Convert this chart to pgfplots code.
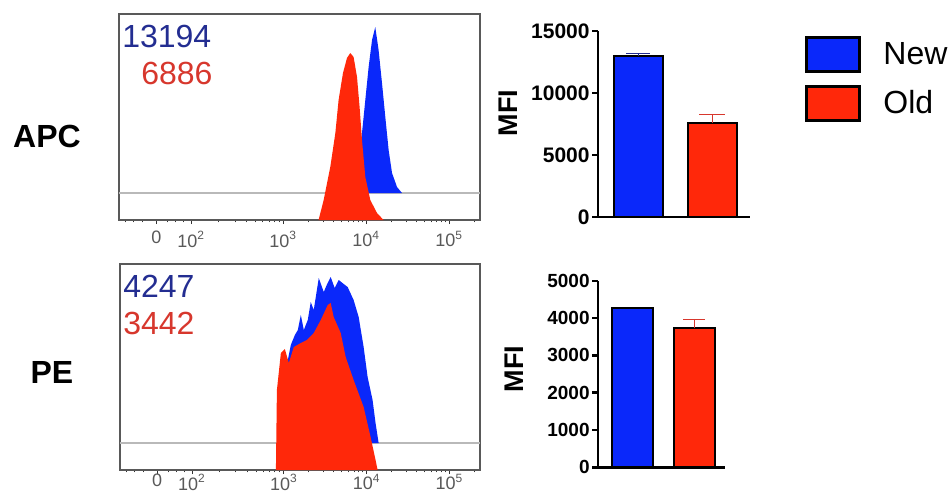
\documentclass[border=0pt]{standalone}
\usepackage{fontspec}
\setmainfont{Liberation Sans}
\usepackage{pgfplots}
\pgfplotsset{compat=1.18}

\definecolor{newblue}{RGB}{10,40,250}
\definecolor{oldred}{RGB}{255,40,10}
\definecolor{navy}{RGB}{35,45,145}
\definecolor{numred}{RGB}{215,55,45}

\pgfplotsset{
  histo/.style={
    scale only axis, width=180.5pt, height=103pt,
    xmin=1.02, xmax=5.37, ymin=0, ymax=206,
    ytick=\empty,
    xtick={1.47,1.89,3,4,5},
    xticklabels={0,10\textsuperscript{2},10\textsuperscript{3},10\textsuperscript{4},10\textsuperscript{5}},
    minor xtick={1.1,1.2,1.3,1.6,1.7,1.8,2.22,2.42,2.56,2.67,2.75,2.83,2.89,2.95,
                 3.30,3.48,3.60,3.70,3.78,3.85,3.90,3.95,
                 4.30,4.48,4.60,4.70,4.78,4.85,4.90,4.95,5.30},
    tick pos=left, tick align=outside,
    major tick length=2pt, minor tick length=1.2pt,
    tick style={black!80, line width=0.5pt},
    axis line style={black!65, line width=0.7pt},
    xticklabel style={font=\fontsize{9}{10}\selectfont, text=black!65},
  },
  barax/.style={
    scale only axis,
    axis x line=bottom, axis y line=left,
    axis line style={line width=1.2pt, -},
    xtick=\empty, ymin=0,
    ytick style={line width=1.2pt, black},
    major tick length=3pt, tick align=outside,
    /pgf/number format/assume math mode=true,
    /pgf/number format/1000 sep={},
    scaled y ticks=false,
    ybar, bar shift=0pt,
    ylabel={MFI},
    ylabel style={font=\bfseries\fontsize{13.5}{15}\selectfont, anchor=center},
  },
}

\begin{document}
\begin{tikzpicture}
\useasboundingbox (0,0) rectangle (475pt,-247.5pt);

% ---------- APC histogram ----------
\begin{axis}[histo, at={(59.5pt,-110pt)}, xticklabel style={yshift=0pt}]
\addplot[gray!55, line width=0.6pt] coordinates {(1.02,27) (5.37,27)};
\addplot[fill=newblue, draw=none] coordinates {
  (3.828,27) (3.867,33) (3.907,53) (3.948,87) (3.988,120) (4.028,153)
  (4.069,180) (4.108,193) (4.148,170) (4.189,137) (4.229,103) (4.269,70)
  (4.310,47) (4.370,33) (4.430,27)} -- cycle;
\addplot[fill=oldred, draw=none] coordinates {
  (3.425,0) (3.486,20) (3.566,53) (3.627,87) (3.666,120) (3.719,147)
  (3.767,162) (3.807,167) (3.847,163) (3.888,143) (3.919,113) (3.948,80)
  (3.988,43) (4.048,20) (4.129,7) (4.208,0)} -- cycle;
\node[anchor=north west, inner sep=0pt, text=navy, font=\fontsize{16}{18}\selectfont]
  at (axis description cs:0.008,0.947) {13194};
\node[anchor=north east, inner sep=0pt, text=numred, font=\fontsize{16}{18}\selectfont]
  at (axis description cs:0.260,0.767) {6886};
\end{axis}

% ---------- PE histogram ----------
\begin{axis}[histo, at={(60pt,-235pt)}, width=180pt, xticklabel style={yshift=3.5pt}]
\addplot[gray!55, line width=0.6pt] coordinates {(1.02,27) (5.37,27)};
\addplot[fill=newblue, draw=none] coordinates {
  (3.024,27) (3.048,110) (3.084,125) (3.133,135) (3.169,140) (3.205,155)
  (3.241,140) (3.289,150) (3.325,168) (3.361,160) (3.422,192) (3.482,178)
  (3.518,185) (3.566,193) (3.614,182) (3.663,190) (3.723,186) (3.771,183)
  (3.843,170) (3.904,153) (3.964,123) (4.012,93) (4.072,70) (4.108,47)
  (4.145,27)} -- cycle;
\addplot[fill=oldred, draw=none] coordinates {
  (2.904,0) (2.916,80) (2.964,117) (3.012,121) (3.060,107) (3.120,123)
  (3.205,127) (3.277,130) (3.361,137) (3.446,150) (3.530,165) (3.566,167)
  (3.602,153) (3.687,137) (3.747,113) (3.843,90) (3.964,63) (4.048,33)
  (4.108,10) (4.133,0)} -- cycle;
\node[anchor=north west, inner sep=0pt, text=navy, font=\fontsize{16}{18}\selectfont]
  at (axis description cs:0.008,0.947) {4247};
\node[anchor=north west, inner sep=0pt, text=numred, font=\fontsize{16}{18}\selectfont]
  at (axis description cs:0.008,0.767) {3442};
\end{axis}

% ---------- APC bars ----------
\begin{axis}[barax, at={(299pt,-108.5pt)}, width=76pt, height=93pt,
  xmin=0.449, xmax=2.517, ymax=15000, ytick={0,5000,10000,15000},
  bar width=24.5pt,
  yticklabel style={font=\bfseries\fontsize{10.5}{12}\selectfont, inner sep=1pt},
  ylabel style={at={(axis description cs:-0.592,0.56)}},
  legend style={at={(axis description cs:1.362,0.975)}, anchor=north west,
    draw=none, fill=none, inner sep=0pt, row sep=6pt,
    font=\fontsize{16}{18}\selectfont, nodes={inner sep=0pt},
    /tikz/every odd column/.style={column sep=11pt}},
  legend cell align=left]
\addplot[fill=newblue, draw=black, line width=1pt,
  legend image code/.code={\draw[fill=newblue, draw=black, line width=1.5pt] (0pt,-8.5pt) rectangle (26.5pt,8.5pt);},
  error bars/.cd, y dir=plus, y explicit,
  error bar style={navy, line width=0.5pt},
  error mark options={rotate=90, mark size=6pt, navy, line width=0.5pt}]
  coordinates {(1,13000) +- (0,200)};
\addlegendentry{New}
\addplot[fill=oldred, draw=black, line width=1pt,
  legend image code/.code={\draw[fill=oldred, draw=black, line width=1.5pt] (0pt,-8.5pt) rectangle (26.5pt,8.5pt);},
  error bars/.cd, y dir=plus, y explicit,
  error bar style={numred, line width=0.5pt},
  error mark options={rotate=90, mark size=6.5pt, numred, line width=0.5pt}]
  coordinates {(2,7600) +- (0,680)};
\addlegendentry{Old}
\end{axis}

% ---------- PE bars ----------
\begin{axis}[barax, at={(299pt,-233.65pt)}, width=63.5pt, height=93.3pt,
  xmin=0.447, xmax=2.495, ymax=5000, ytick={0,1000,2000,3000,4000,5000},
  bar width=20.5pt,
  yticklabel style={font=\bfseries\fontsize{9.5}{11}\selectfont, inner sep=1pt},
  ylabel style={at={(axis description cs:-0.661,0.527)}}]
\addplot[fill=newblue, draw=black, line width=1pt] coordinates {(1,4270)};
\addplot[fill=oldred, draw=black, line width=1pt,
  error bars/.cd, y dir=plus, y explicit,
  error bar style={numred, line width=0.5pt},
  error mark options={rotate=90, mark size=5.5pt, numred, line width=0.5pt}]
  coordinates {(2,3720) +- (0,250)};
\end{axis}

% ---------- row labels ----------
\node[font=\bfseries\fontsize{16}{18}\selectfont] at (23.5pt,-68pt) {APC};
\node[font=\bfseries\fontsize{16}{18}\selectfont] at (26pt,-186pt) {PE};
\end{tikzpicture}
\end{document}
